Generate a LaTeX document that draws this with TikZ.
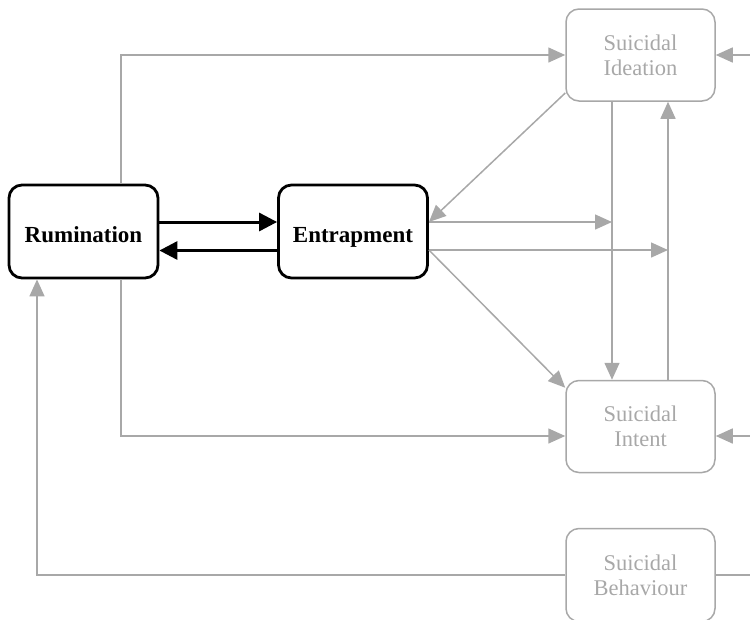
\documentclass[tikz,border=0pt]{standalone}
\usepackage{fontspec}
\setmainfont{Liberation Serif}
\usetikzlibrary{arrows.meta}
\definecolor{lg}{RGB}{168,168,168}
\tikzset{
 mainbox/.style={draw=black, line width=2.8pt, rounded corners=13pt, minimum width=149pt, minimum height=93pt, font=\fontsize{23}{26}\selectfont\bfseries, inner sep=0pt, align=center, text height=21pt, text depth=0pt},
 greybox/.style={draw=lg, line width=1.5pt, rounded corners=13pt, minimum width=149pt, minimum height=92pt, font=\fontsize{22.5}{25}\selectfont, text=lg, inner sep=0pt, align=center},
 garrow/.style={draw=lg, line width=1.5pt, -{Triangle[length=17pt,width=15pt]}},
 gline/.style={draw=lg, line width=1.5pt},
 barrow/.style={draw=black, line width=3pt, -{Triangle[length=18pt,width=18pt]}},
}
\begin{document}
\begin{tikzpicture}[x=1pt,y=-1pt]
\useasboundingbox (0,0) rectangle (750,619);
\clip (0,0) rectangle (750,619);
\node[mainbox] (rum) at (83.5,231.5) {Rumination};
\node[mainbox] (ent) at (353,231.5) {Entrapment};
\node[greybox] (idea) at (640.5,55) {Suicidal\\Ideation};
\node[greybox] (intent) at (640.5,426.5) {Suicidal\\Intent};
\node[greybox, minimum height=93pt] (beh) at (640.5,575) {Suicidal\\Behaviour};
% edge coordinates
\coordinate (r1) at (750,55);
\coordinate (r2) at (750,436);
\coordinate (r3) at (750,575);
\coordinate (v1) at ([xshift=-28.5pt]idea.south);
\coordinate (v2) at ([xshift=27.5pt]intent.north);
\coordinate (e1) at ([yshift=9.5pt]ent.east);
\coordinate (e2) at ([yshift=-18.5pt]ent.east);
% black arrows
\draw[barrow] ([yshift=9.5pt]rum.east) -- ([yshift=9.5pt]ent.west);
\draw[barrow] ([yshift=-19pt]ent.west) -- ([yshift=-19pt]rum.east);
% grey connectors
\draw[garrow] ([xshift=37.5pt]rum.north) |- (idea.west);
\draw[garrow] ([xshift=37.5pt]rum.south) |- ([yshift=-9.5pt]intent.west);
\draw[garrow] (beh.west) -| ([xshift=-46.5pt]rum.south);
\draw[garrow] (r1) -- (idea.east);
\draw[garrow] (r2) -- ([yshift=-9.5pt]intent.east);
\draw[gline] (beh.east) -- (r3);
\draw[garrow] (v1) -- ([xshift=-28.5pt]intent.north);
\draw[garrow] (v2) -- ([xshift=27.5pt]idea.south);
\draw[garrow] ([yshift=-38pt]idea.west) -- (e1);
\draw[garrow] (e1) -- (e1 -| v1);
\draw[garrow] (e2) -- (e2 -| v2);
\draw[garrow] (e2) -- ([yshift=-8pt]intent.north west);
\end{tikzpicture}
\end{document}
